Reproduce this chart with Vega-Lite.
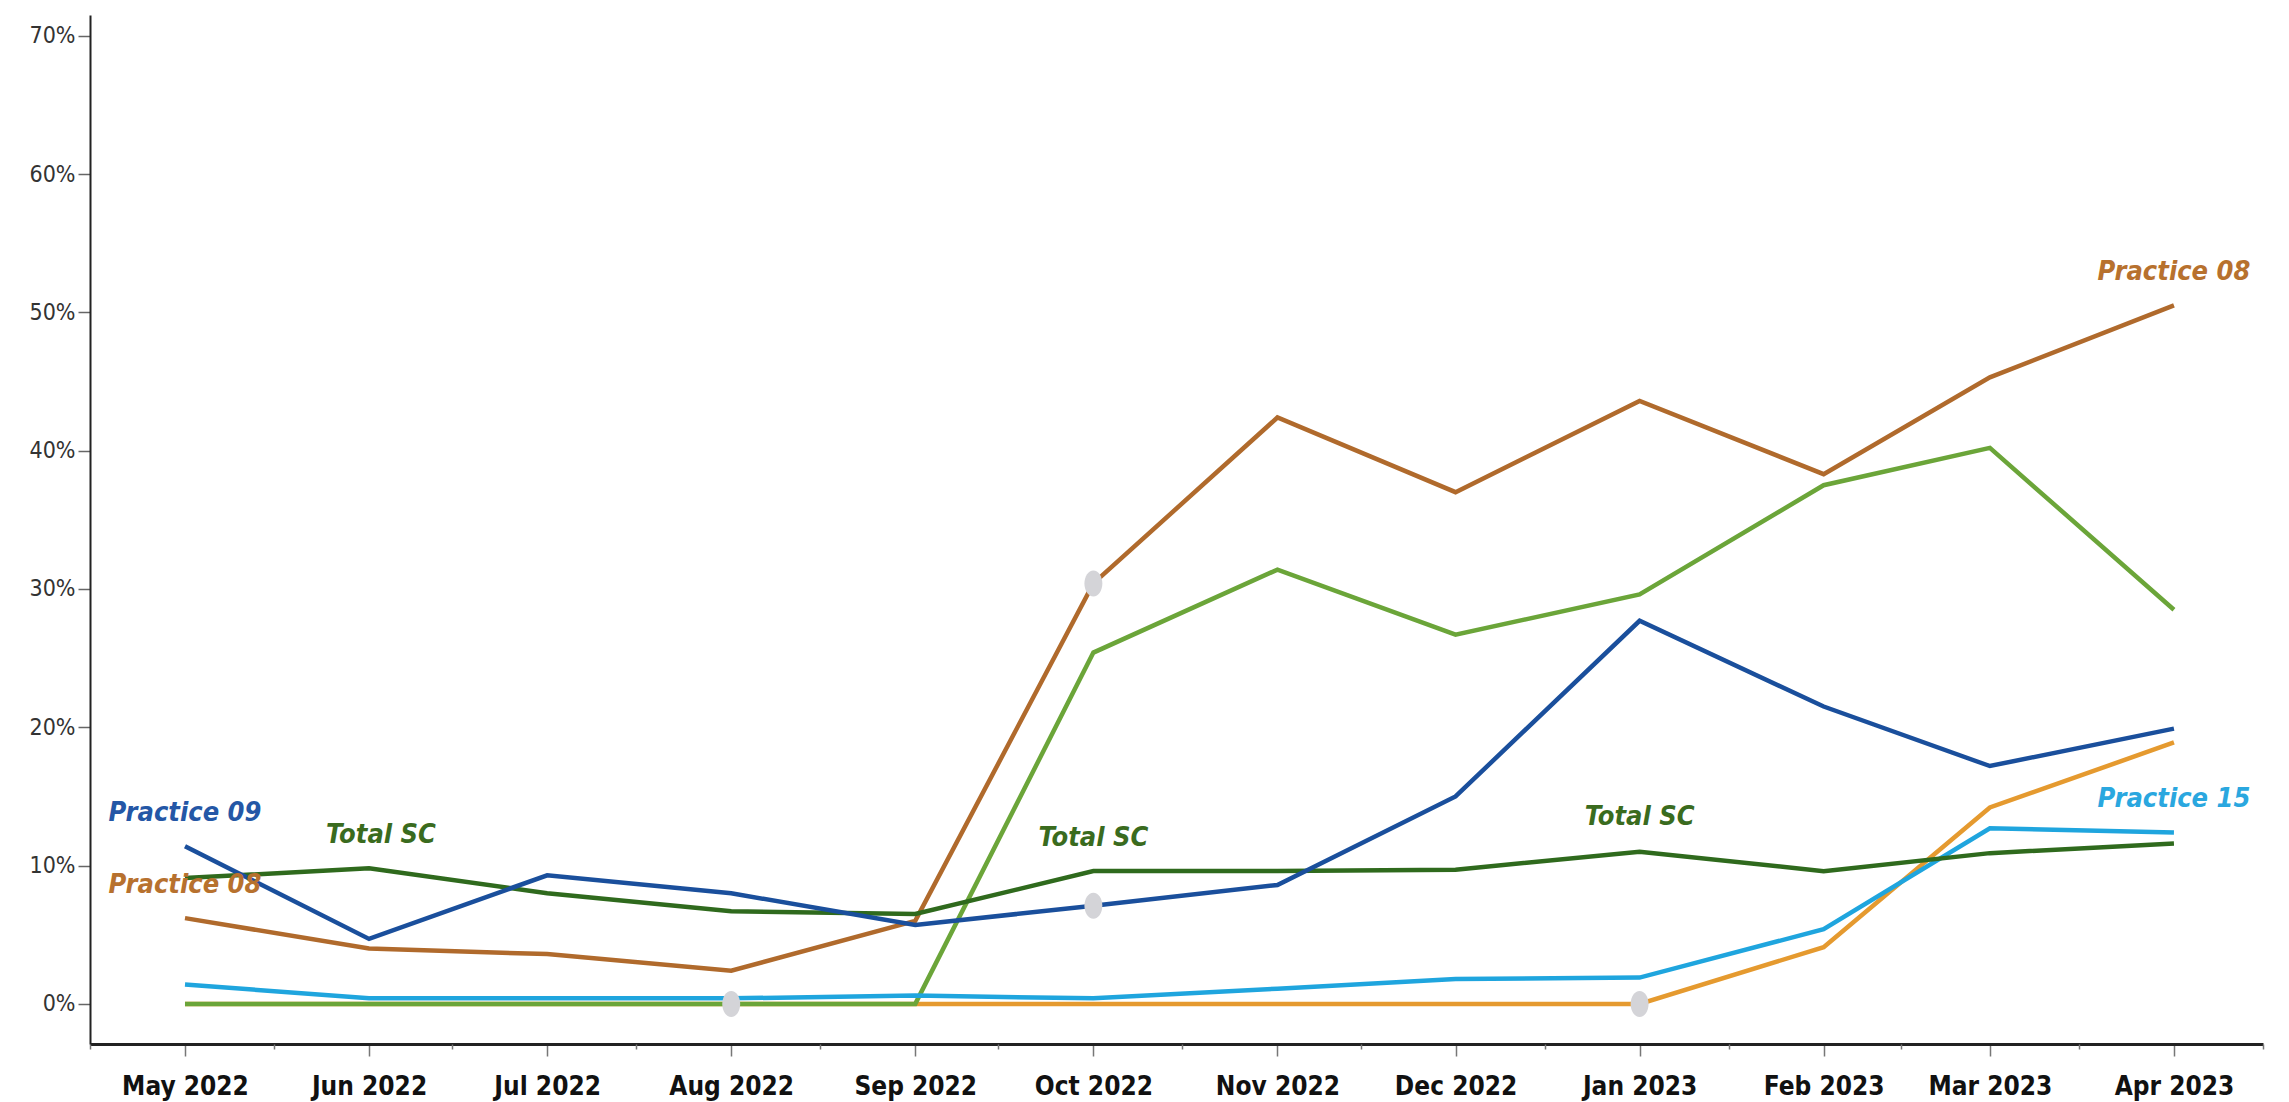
{
  "$schema": "https://vega.github.io/schema/vega-lite/v6.json",
  "width": 2173,
  "height": 1029,
  "autosize": "none",
  "padding": {"left": 90, "top": 15, "right": 26, "bottom": 58},
  "background": "white",
  "config": {
    "view": {"stroke": null},
    "axis": {"grid": false, "title": null},
    "axisY": {
      "domainColor": "#222", "domainWidth": 2, "tickColor": "#666", "tickWidth": 1.5, "tickSize": 12,
      "labelFont": "Liberation Sans Narrow, DejaVu Sans Condensed, Liberation Sans, sans-serif", "labelFontSize": 23, "labelColor": "#333", "labelPadding": 3
    }
  },
  "datasets": {
    "lines": [
      {"series": "Practice 12", "date": "2022-05-01", "value": 0.0},
      {"series": "Practice 12", "date": "2022-06-01", "value": 0.0},
      {"series": "Practice 12", "date": "2022-07-01", "value": 0.0},
      {"series": "Practice 12", "date": "2022-08-01", "value": 0.0},
      {"series": "Practice 12", "date": "2022-09-01", "value": 0.0},
      {"series": "Practice 12", "date": "2022-10-01", "value": 0.0},
      {"series": "Practice 12", "date": "2022-11-01", "value": 0.0},
      {"series": "Practice 12", "date": "2022-12-01", "value": 0.0},
      {"series": "Practice 12", "date": "2023-01-01", "value": 0.0},
      {"series": "Practice 12", "date": "2023-02-01", "value": 0.041},
      {"series": "Practice 12", "date": "2023-03-01", "value": 0.142},
      {"series": "Practice 12", "date": "2023-04-01", "value": 0.189},
      {"series": "Practice 11", "date": "2022-05-01", "value": 0.0},
      {"series": "Practice 11", "date": "2022-06-01", "value": 0.0},
      {"series": "Practice 11", "date": "2022-07-01", "value": 0.0},
      {"series": "Practice 11", "date": "2022-08-01", "value": 0.0},
      {"series": "Practice 11", "date": "2022-09-01", "value": 0.0},
      {"series": "Practice 11", "date": "2022-10-01", "value": 0.254},
      {"series": "Practice 11", "date": "2022-11-01", "value": 0.314},
      {"series": "Practice 11", "date": "2022-12-01", "value": 0.267},
      {"series": "Practice 11", "date": "2023-01-01", "value": 0.296},
      {"series": "Practice 11", "date": "2023-02-01", "value": 0.375},
      {"series": "Practice 11", "date": "2023-03-01", "value": 0.402},
      {"series": "Practice 11", "date": "2023-04-01", "value": 0.285},
      {"series": "Practice 15", "date": "2022-05-01", "value": 0.014},
      {"series": "Practice 15", "date": "2022-06-01", "value": 0.004},
      {"series": "Practice 15", "date": "2022-07-01", "value": 0.004},
      {"series": "Practice 15", "date": "2022-08-01", "value": 0.004},
      {"series": "Practice 15", "date": "2022-09-01", "value": 0.006},
      {"series": "Practice 15", "date": "2022-10-01", "value": 0.004},
      {"series": "Practice 15", "date": "2022-11-01", "value": 0.011},
      {"series": "Practice 15", "date": "2022-12-01", "value": 0.018},
      {"series": "Practice 15", "date": "2023-01-01", "value": 0.019},
      {"series": "Practice 15", "date": "2023-02-01", "value": 0.054},
      {"series": "Practice 15", "date": "2023-03-01", "value": 0.127},
      {"series": "Practice 15", "date": "2023-04-01", "value": 0.124},
      {"series": "Practice 08", "date": "2022-05-01", "value": 0.062},
      {"series": "Practice 08", "date": "2022-06-01", "value": 0.040},
      {"series": "Practice 08", "date": "2022-07-01", "value": 0.036},
      {"series": "Practice 08", "date": "2022-08-01", "value": 0.024},
      {"series": "Practice 08", "date": "2022-09-01", "value": 0.060},
      {"series": "Practice 08", "date": "2022-10-01", "value": 0.304},
      {"series": "Practice 08", "date": "2022-11-01", "value": 0.424},
      {"series": "Practice 08", "date": "2022-12-01", "value": 0.370},
      {"series": "Practice 08", "date": "2023-01-01", "value": 0.436},
      {"series": "Practice 08", "date": "2023-02-01", "value": 0.383},
      {"series": "Practice 08", "date": "2023-03-01", "value": 0.453},
      {"series": "Practice 08", "date": "2023-04-01", "value": 0.505},
      {"series": "Total SC", "date": "2022-05-01", "value": 0.091},
      {"series": "Total SC", "date": "2022-06-01", "value": 0.098},
      {"series": "Total SC", "date": "2022-07-01", "value": 0.080},
      {"series": "Total SC", "date": "2022-08-01", "value": 0.067},
      {"series": "Total SC", "date": "2022-09-01", "value": 0.065},
      {"series": "Total SC", "date": "2022-10-01", "value": 0.096},
      {"series": "Total SC", "date": "2022-11-01", "value": 0.096},
      {"series": "Total SC", "date": "2022-12-01", "value": 0.097},
      {"series": "Total SC", "date": "2023-01-01", "value": 0.110},
      {"series": "Total SC", "date": "2023-02-01", "value": 0.096},
      {"series": "Total SC", "date": "2023-03-01", "value": 0.109},
      {"series": "Total SC", "date": "2023-04-01", "value": 0.116},
      {"series": "Practice 09", "date": "2022-05-01", "value": 0.114},
      {"series": "Practice 09", "date": "2022-06-01", "value": 0.047},
      {"series": "Practice 09", "date": "2022-07-01", "value": 0.093},
      {"series": "Practice 09", "date": "2022-08-01", "value": 0.080},
      {"series": "Practice 09", "date": "2022-09-01", "value": 0.057},
      {"series": "Practice 09", "date": "2022-10-01", "value": 0.071},
      {"series": "Practice 09", "date": "2022-11-01", "value": 0.086},
      {"series": "Practice 09", "date": "2022-12-01", "value": 0.150},
      {"series": "Practice 09", "date": "2023-01-01", "value": 0.277},
      {"series": "Practice 09", "date": "2023-02-01", "value": 0.215},
      {"series": "Practice 09", "date": "2023-03-01", "value": 0.172},
      {"series": "Practice 09", "date": "2023-04-01", "value": 0.199}
    ],
    "dots": [
      {"date": "2022-08-01", "value": 0.0},
      {"date": "2022-10-01", "value": 0.304},
      {"date": "2022-10-01", "value": 0.071},
      {"date": "2023-01-01", "value": 0.0}
    ],
    "labels": [
      {"label": "Practice 09", "date": "2022-05-01", "value": 0.138},
      {"label": "Practice 08", "date": "2022-05-01", "value": 0.086},
      {"label": "Total SC", "date": "2022-06-03", "value": 0.122},
      {"label": "Total SC", "date": "2022-10-01", "value": 0.120},
      {"label": "Total SC", "date": "2023-01-01", "value": 0.135},
      {"label": "Practice 08", "date": "2023-04-01", "value": 0.529},
      {"label": "Practice 15", "date": "2023-04-01", "value": 0.148}
    ]
  },
  "layer": [
    {
      "data": {"name": "lines"},
      "mark": {"type": "line", "strokeWidth": 4.5, "strokeJoin": "miter"},
      "encoding": {
        "x": {
          "field": "date", "type": "temporal",
          "scale": {"type": "utc", "domain": [{"year": 2022, "month": 4, "date": 15, "utc": true}, {"year": 2023, "month": 4, "date": 16, "utc": true}]},
          "axis": {
            "orient": "bottom",
            "values": [
              {"year": 2022, "month": 5, "date": 1, "utc": true}, {"year": 2022, "month": 6, "date": 1, "utc": true},
              {"year": 2022, "month": 7, "date": 1, "utc": true}, {"year": 2022, "month": 8, "date": 1, "utc": true},
              {"year": 2022, "month": 9, "date": 1, "utc": true}, {"year": 2022, "month": 10, "date": 1, "utc": true},
              {"year": 2022, "month": 11, "date": 1, "utc": true}, {"year": 2022, "month": 12, "date": 1, "utc": true},
              {"year": 2023, "month": 1, "date": 1, "utc": true}, {"year": 2023, "month": 2, "date": 1, "utc": true},
              {"year": 2023, "month": 3, "date": 1, "utc": true}, {"year": 2023, "month": 4, "date": 1, "utc": true}
            ],
            "labelExpr": "utcFormat(datum.value, '%b %Y')",
            "domainColor": "#222", "domainWidth": 3, "tickColor": "#777", "tickWidth": 1.5, "tickSize": 12,
            "labelFont": "Liberation Sans Narrow, DejaVu Sans Condensed, Liberation Sans, sans-serif", "labelFontSize": 26, "labelFontWeight": "bold", "labelColor": "#111",
            "labelPadding": 17, "labelFlush": false, "labelOverlap": false
          }
        },
        "y": {
          "field": "value", "type": "quantitative",
          "scale": {"domain": [-0.029, 0.715], "nice": false, "zero": false},
          "axis": {"values": [0, 0.1, 0.2, 0.3, 0.4, 0.5, 0.6, 0.7], "format": ".0%"}
        },
        "color": {
          "field": "series", "type": "nominal", "legend": null,
          "scale": {
            "domain": ["Practice 12", "Practice 11", "Practice 15", "Practice 08", "Total SC", "Practice 09"],
            "range": ["#E59A2F", "#6BA539", "#1FA5DE", "#B06A2C", "#2F6A1D", "#1A4F9C"]
          }
        }
      }
    },
    {
      "data": {"name": "dots"},
      "mark": {"type": "point", "filled": true, "color": "#D4D4D8", "opacity": 1, "size": 676, "shape": "M0,-1 A0.69,1 0 1,1 0,1 A0.69,1 0 1,1 0,-1 Z"},
      "encoding": {
        "x": {
          "field": "date", "type": "temporal",
          "axis": {
            "orient": "bottom",
            "values": [
              {"year": 2022, "month": 4, "date": 15, "utc": true}, {"year": 2022, "month": 5, "date": 16, "utc": true},
              {"year": 2022, "month": 6, "date": 15, "utc": true}, {"year": 2022, "month": 7, "date": 16, "utc": true},
              {"year": 2022, "month": 8, "date": 16, "utc": true}, {"year": 2022, "month": 9, "date": 15, "utc": true},
              {"year": 2022, "month": 10, "date": 16, "utc": true}, {"year": 2022, "month": 11, "date": 15, "utc": true},
              {"year": 2022, "month": 12, "date": 16, "utc": true}, {"year": 2023, "month": 1, "date": 16, "utc": true},
              {"year": 2023, "month": 2, "date": 14, "utc": true}, {"year": 2023, "month": 3, "date": 16, "utc": true},
              {"year": 2023, "month": 4, "date": 16, "utc": true}
            ],
            "labels": false, "domain": false, "tickColor": "#777", "tickWidth": 1.5, "tickSize": 5
          }
        },
        "y": {"field": "value", "type": "quantitative"}
      }
    },
    {
      "data": {"name": "labels"},
      "mark": {"type": "text", "font": "Liberation Sans Narrow, DejaVu Sans Condensed, Liberation Sans, sans-serif", "fontSize": 27, "fontWeight": "bold", "fontStyle": "italic", "align": "center", "baseline": "middle"},
      "encoding": {
        "x": {"field": "date", "type": "temporal", "axis": null},
        "y": {"field": "value", "type": "quantitative"},
        "text": {"field": "label"},
        "color": {
          "field": "label", "type": "nominal", "legend": null,
          "scale": {"domain": ["Practice 09", "Practice 08", "Total SC", "Practice 15"], "range": ["#2457A6", "#B7712E", "#3A6B1E", "#2AA7DF"]}
        }
      }
    }
  ],
  "resolve": {"axis": {"x": "independent"}, "scale": {"color": "independent"}}
}
